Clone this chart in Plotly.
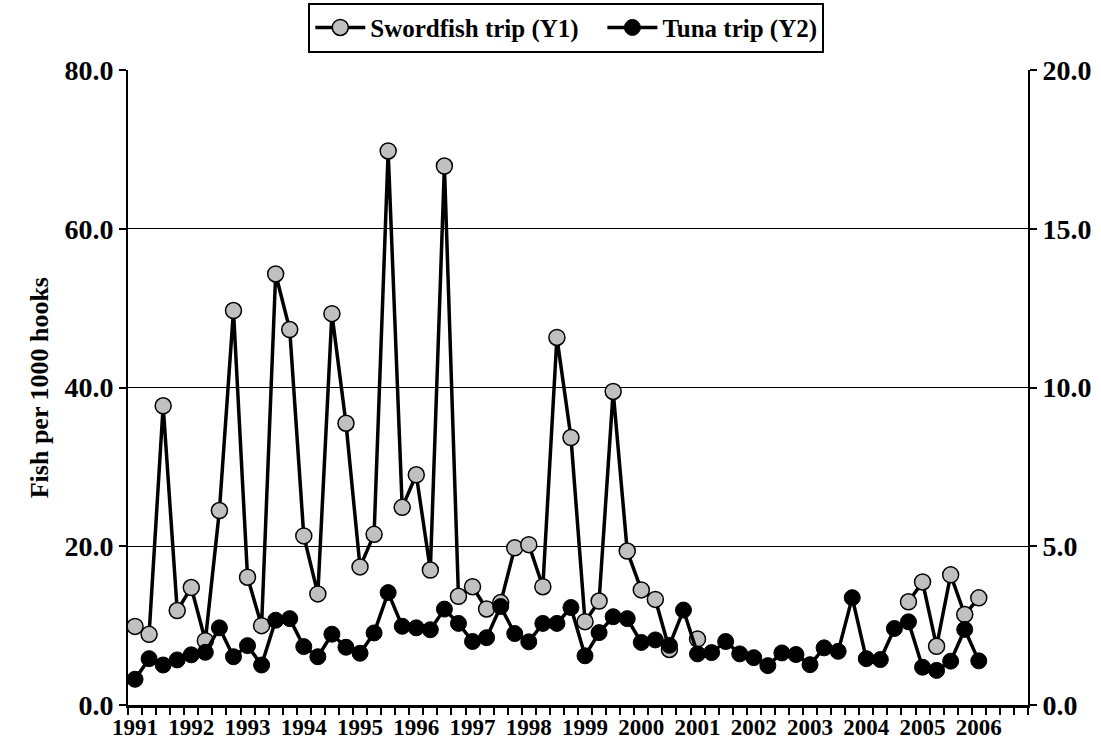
import plotly.graph_objects as go

years = list(range(1991, 2007))
quarters = [f"{y} Q{q}" for y in years for q in range(1, 5)]  # 64 categories

swordfish = [9.9, 8.9, 37.7, 11.9, 14.8, 8.1, 24.5, 49.7, 16.1, 10.0,
             54.3, 47.3, 21.3, 14.0, 49.3, 35.5, 17.4, 21.5, 69.8, 24.9,
             29.0, 17.0, 67.9, 13.7, 14.9, 12.1, 12.9, 19.8, 20.2, 14.9,
             46.3, 33.7, 10.5, 13.1, 39.5, 19.4, 14.5, 13.3, 7.0, None,
             8.3, None, None, None, None, None, None, None, None, None,
             None, None, None, None, None, 13.0, 15.5, 7.4, 16.4, 11.4,
             13.5]

tuna = [0.81, 1.46, 1.26, 1.42, 1.58, 1.66, 2.43, 1.52, 1.87, 1.26,
        2.67, 2.72, 1.84, 1.52, 2.23, 1.82, 1.63, 2.27, 3.54, 2.48,
        2.43, 2.37, 3.02, 2.57, 2.00, 2.12, 3.10, 2.25, 1.99, 2.57,
        2.57, 3.07, 1.55, 2.28, 2.78, 2.72, 1.97, 2.05, 1.88, 2.99,
        1.61, 1.65, 2.00, 1.61, 1.49, 1.24, 1.64, 1.59, 1.27, 1.80,
        1.69, 3.38, 1.46, 1.43, 2.41, 2.62, 1.19, 1.09, 1.38, 2.38,
        1.39]

year_labels = [str(y) for y in years]
series_names = ["Swordfish trip (Y1)", "Tuna trip (Y2)"]

x_sword = list(range(len(swordfish)))
x_tuna = list(range(len(tuna)))

FONT = "Liberation Serif"
NB = "\u00a0"

fig = go.Figure()
fig.add_trace(go.Scatter(
    x=x_sword, y=swordfish, name=series_names[0] + NB * 3, mode="lines+markers",
    line=dict(color="black", width=3.5), connectgaps=False,
    marker=dict(symbol="circle", size=16, color="#C0C0C0",
                line=dict(color="black", width=1.5)),
    yaxis="y"))
fig.add_trace(go.Scatter(
    x=x_tuna, y=tuna, name=series_names[1], mode="lines+markers",
    line=dict(color="black", width=3.5),
    marker=dict(symbol="circle", size=16, color="black",
                line=dict(color="black", width=1)),
    yaxis="y2"))

fig.update_layout(
    width=1101, height=743,
    margin=dict(l=128, r=73, t=70, b=38, autoexpand=False),
    paper_bgcolor="white", plot_bgcolor="white",
    font=dict(family=FONT, color="black", weight="bold"),
    showlegend=True,
    legend=dict(orientation="h", x=0.487, y=1.106, xanchor="center", yanchor="top",
                bordercolor="black", borderwidth=2, bgcolor="white",
                font=dict(family=FONT, size=25, weight="bold"),
                itemwidth=50, tracegroupgap=0),
    xaxis=dict(
        range=[-0.5, len(quarters) - 0.5],
        tickmode="array", tickvals=[4 * i for i in range(len(years))],
        ticktext=year_labels, ticks="",
        tickfont=dict(family=FONT, size=23, weight="bold"),
        showline=True, linecolor="black", linewidth=2.5,
        showgrid=False, zeroline=False,
        minor=dict(ticks="outside", tickmode="linear", tick0=-0.5, dtick=1,
                   ticklen=7, tickwidth=1.5, tickcolor="black", showgrid=False),
    ),
    yaxis=dict(
        range=[0, 80], tickmode="linear", tick0=0, dtick=20, tickformat=".1f",
        ticks="outside", ticklen=7, tickwidth=1.5, tickcolor="black",
        tickfont=dict(family=FONT, size=28, weight="bold"),
        showline=True, linecolor="black", linewidth=2,
        showgrid=True, gridcolor="black", gridwidth=1, zeroline=False,
    ),
    yaxis2=dict(
        range=[0, 20], tickmode="linear", tick0=0, dtick=5, tickformat=".1f",
        overlaying="y", side="right",
        ticks="outside", ticklen=7, tickwidth=1.5, tickcolor="black",
        tickfont=dict(family=FONT, size=28, weight="bold"),
        showline=True, linecolor="black", linewidth=2,
        showgrid=False, zeroline=False,
    ),
    annotations=[dict(
        text="Fish per 1000 hooks", textangle=-90,
        xref="paper", yref="paper", x=-0.098, y=0.5,
        xanchor="center", yanchor="middle", showarrow=False,
        font=dict(family=FONT, size=26, weight="bold"))],
)

fig.write_html("out.html", config={"displayModeBar": False},
               post_script="document.body.style.margin='0px';")
